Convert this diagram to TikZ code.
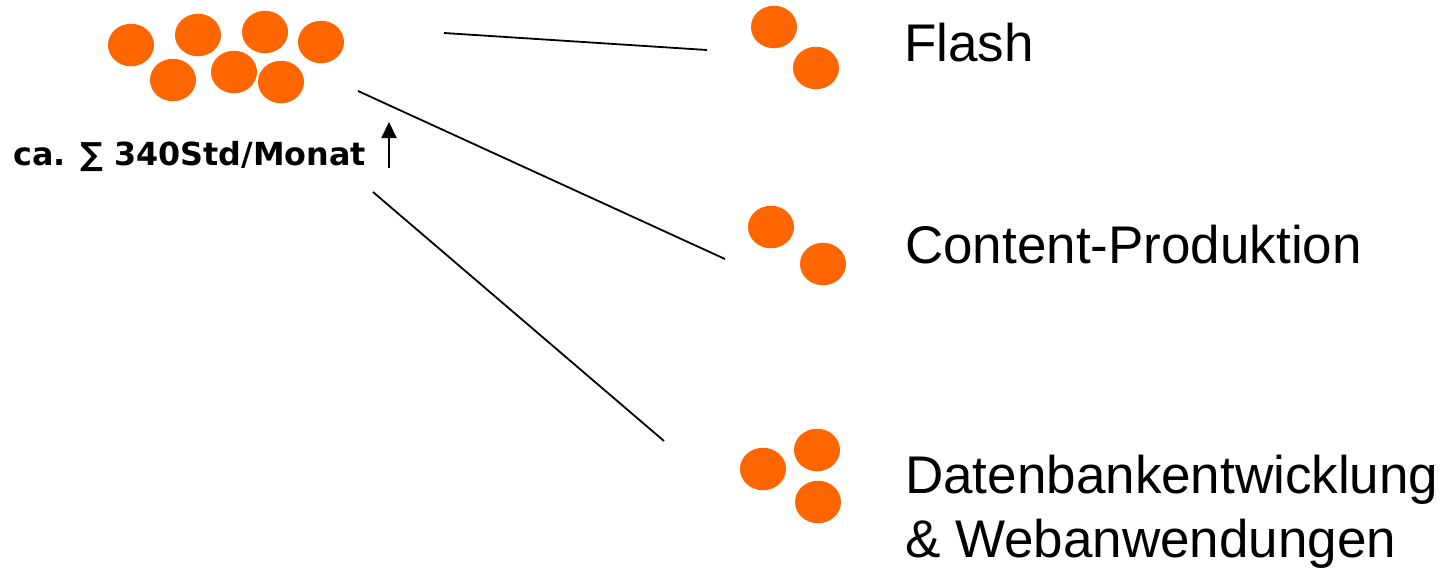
\documentclass[tikz,border=0pt]{standalone}
\usepackage{fontspec}
\setmainfont{Liberation Sans}
\newfontfamily\labelfont{DejaVu Sans}
\usetikzlibrary{shapes.geometric,arrows.meta}
\definecolor{dotorange}{HTML}{FF6600}
\tikzset{
  dot/.style={ellipse, fill=dotorange, draw=none, minimum width=46pt, minimum height=42.5pt, inner sep=0pt},
  link/.style={line width=1.8pt, black},
  biglabel/.style={anchor=base west, inner sep=0pt, font=\fontsize{53}{64}\selectfont, align=left},
}
\begin{document}
\begin{tikzpicture}[x=1pt,y=-1pt]
\useasboundingbox (0,0) rectangle (1449,568);
% top cluster
\node[dot] (t1) at (131,45) {};
\node[dot] (t2) at (198,35) {};
\node[dot] (t3) at (265,32) {};
\node[dot] (t4) at (321,42) {};
\node[dot] (t5) at (173,80) {};
\node[dot] (t6) at (234,72) {};
\node[dot] (t7) at (281,82) {};
% label
\node[anchor=base west, inner sep=0pt, font=\labelfont\bfseries\fontsize{31.8}{36}\selectfont] (sum) at (13,165) {ca. ∑ 340Std/Monat};
\coordinate (arrB) at (389,168);
\coordinate (arrT) at (389,122);
\draw[line width=2pt, -{Triangle[width=15pt,length=16pt]}] (arrB) -- (arrT);
% flash group
\node[dot] (f1) at (774,27) {};
\node[dot] (f2) at (816,68) {};
\node[biglabel] (flash) at (904,61) {Flash};
% content group
\node[dot] (c1) at (771,227) {};
\node[dot] (c2) at (823,264) {};
\node[biglabel] (content) at (905,263) {Content-Produktion};
% datenbank group
\node[dot] (d1) at (763,469) {};
\node[dot] (d2) at (817,450) {};
\node[dot] (d3) at (818,502) {};
\node[biglabel] (daten) at (905,557) {Datenbankentwicklung\\\& Webanwendungen};
% connectors
\coordinate (l1a) at (444,33);
\coordinate (l1b) at (707,50);
\coordinate (l2a) at (358,91);
\coordinate (l2b) at (725,259);
\coordinate (l3a) at (373,192);
\coordinate (l3b) at (664,441);
\draw[link] (l1a) -- (l1b);
\draw[link] (l2a) -- (l2b);
\draw[link] (l3a) -- (l3b);
\end{tikzpicture}
\end{document}
